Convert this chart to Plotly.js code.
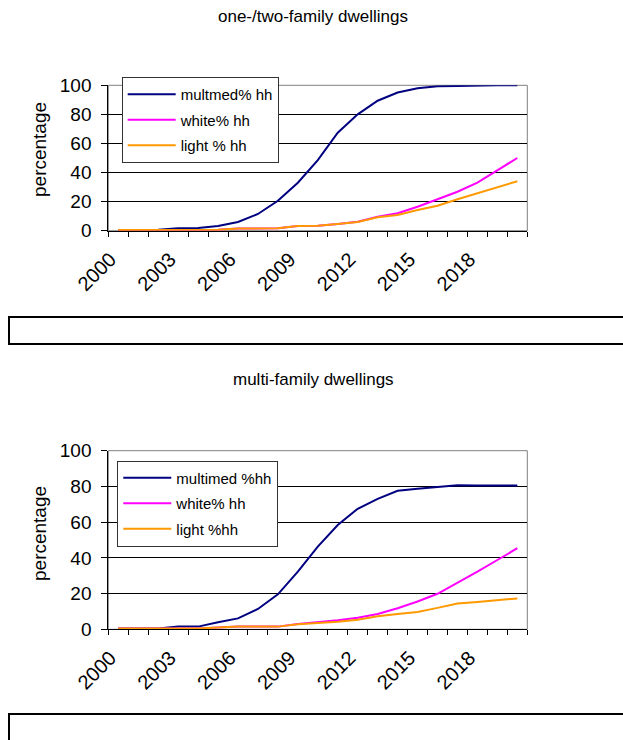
<!DOCTYPE html>
<html>
<head>
<meta charset="utf-8">
<script src="https://cdn.plot.ly/plotly-3.0.1.min.js"></script>
<style>
  html, body { margin: 0; padding: 0; background: #fff; }
  #chart { width: 623px; height: 740px; }
</style>
</head>
<body>
<div id="chart"></div>
<script>
// Years on the category axis
const years = [2000, 2001, 2002, 2003, 2004, 2005, 2006, 2007, 2008, 2009, 2010,
               2011, 2012, 2013, 2014, 2015, 2016, 2017, 2018, 2019, 2020];
const labelYears = [2000, 2003, 2006, 2009, 2012, 2015, 2018];

// One-/two-family dwellings: share of households (%)
const oneTwoMultimed = [0.5, 0.5, 0.7, 1.6, 1.8, 3.2, 6, 11.5, 20.6, 33, 48.6,
                        67.4, 80, 89.4, 95, 98, 99.3, 99.5, 100, 100, 100];
const oneTwoWhite    = [0.5, 0.5, 0.5, 0.5, 0.5, 0.6, 1.5, 1.5, 1.7, 3.2, 3.4,
                        4.6, 6.2, 9.6, 12, 16.5, 21.6, 26.8, 33, 41.5, 50];
const oneTwoLight    = [0.5, 0.5, 0.5, 0.5, 0.5, 0.6, 1.5, 1.5, 1.7, 3.2, 3.4,
                        4.6, 6, 9.2, 10.8, 14.2, 17.2, 21.6, 25.7, 29.6, 34];

// Multi-family dwellings: share of households (%)
const multiMultimed = [0.5, 0.5, 0.5, 1.5, 1.5, 3.9, 6.1, 11.4, 19.6, 32.3, 46.3,
                       58.4, 67.5, 73, 77.6, 78.7, 79.5, 80.6, 80.5, 80.5, 80.5];
const multiWhite    = [0.5, 0.5, 0.5, 0.5, 0.5, 1, 1.5, 1.5, 1.5, 3, 4,
                       5.1, 6.5, 8.6, 11.8, 15.6, 19.9, 26, 32.3, 38.8, 45.4];
const multiLight    = [0.5, 0.5, 0.5, 0.5, 0.5, 1, 1.5, 1.5, 1.5, 2.8, 3.3,
                       4.2, 5.3, 7.3, 8.6, 9.7, 12, 14.4, 15.3, 16.4, 17.3];

const topNames = ['multmed% hh', 'white% hh', 'light % hh'];
const bottomNames = ['multimed %hh', 'white% hh', 'light %hh'];
const chartTitles = ['one-/two-family dwellings', 'multi-family dwellings'];

const COLORS = ['#000080', '#FF00FF', '#FF9900'];
const FONT = 'Liberation Sans, Arial, sans-serif';
const W = 623, H = 740;

function line(y, name, i, xa, ya, legend) {
  return {
    type: 'scatter', mode: 'lines', x: years, y: y, name: name,
    xaxis: xa, yaxis: ya, legend: legend, legendgroup: legend + i,
    line: { color: COLORS[i], width: 2 }, hoverinfo: 'skip'
  };
}

const data = [
  line(oneTwoMultimed, topNames[0], 0, 'x', 'y', 'legend'),
  line(oneTwoWhite, topNames[1], 1, 'x', 'y', 'legend'),
  line(oneTwoLight, topNames[2], 2, 'x', 'y', 'legend'),
  line(multiMultimed, bottomNames[0], 0, 'x2', 'y2', 'legend2'),
  line(multiWhite, bottomNames[1], 1, 'x2', 'y2', 'legend2'),
  line(multiLight, bottomNames[2], 2, 'x2', 'y2', 'legend2')
];

// pixel helpers for paper coordinates
const px = v => v / W;
const py = v => (H - v) / H;

// rotated year labels end a little left of the category centre
const LABEL_SHIFT = 0.4;

function xAxis(anchor) {
  return {
    anchor: anchor, domain: [px(108.3), px(527.3)],
    range: [1999.5, 2020.5], fixedrange: true,
    showgrid: false, zeroline: false,
    showline: true, linecolor: '#000', linewidth: 1,
    tickmode: 'array', tickvals: labelYears.map(v => v - LABEL_SHIFT),
    ticktext: labelYears.map(String),
    ticks: '', tickangle: -45, ticklabelstandoff: 8,
    tickfont: { family: FONT, size: 20, color: '#000' },
    minor: { ticks: 'outside', tick0: 1999.5, dtick: 1, ticklen: 5,
             tickcolor: '#000', tickwidth: 1, showgrid: false }
  };
}
function yAxis(anchor, dom) {
  return {
    anchor: anchor, domain: dom, range: [0, 100], fixedrange: true,
    tickmode: 'linear', tick0: 0, dtick: 20,
    showgrid: true, gridcolor: '#000', gridwidth: 1, zeroline: false,
    showline: true, linecolor: '#000', linewidth: 1,
    ticks: 'outside', ticklen: 6, tickcolor: '#000', ticklabelstandoff: 6,
    tickfont: { family: FONT, size: 19, color: '#000' }
  };
}
function legendBox(x, y) {
  return {
    x: px(x), y: py(y), xanchor: 'left', yanchor: 'top',
    bgcolor: '#fff', bordercolor: '#333', borderwidth: 1,
    font: { family: FONT, size: 15, color: '#000' },
    traceorder: 'grouped', tracegroupgap: 3, itemwidth: 48,
    itemclick: false, itemdoubleclick: false
  };
}

const layout = {
  width: W, height: H,
  margin: { l: 0, r: 0, t: 0, b: 0, pad: 0 },
  paper_bgcolor: '#fff', plot_bgcolor: '#fff',
  showlegend: true,
  xaxis: xAxis('y'),
  yaxis: yAxis('x', [py(230.7), py(85.3)]),
  xaxis2: xAxis('y2'),
  yaxis2: yAxis('x2', [py(629.3), py(450.7)]),
  legend: legendBox(121.7, 77),
  legend2: legendBox(117.3, 460.5),
  shapes: [
    // plot-area frames
    { type: 'rect', xref: 'x domain', yref: 'y domain', x0: 0, x1: 1, y0: 0, y1: 1,
      line: { color: '#808080', width: 1 }, layer: 'below' },
    { type: 'rect', xref: 'x2 domain', yref: 'y2 domain', x0: 0, x1: 1, y0: 0, y1: 1,
      line: { color: '#808080', width: 1 }, layer: 'below' },
    // empty caption boxes under each chart
    { type: 'rect', xref: 'paper', yref: 'paper', x0: px(9), x1: px(640), y0: py(344), y1: py(317),
      line: { color: '#000', width: 2 } },
    { type: 'rect', xref: 'paper', yref: 'paper', x0: px(9), x1: px(640), y0: py(760), y1: py(714),
      line: { color: '#000', width: 2 } }
  ],
  annotations: [
    { text: chartTitles[0], xref: 'paper', yref: 'paper', x: px(313), y: py(17),
      xanchor: 'center', yanchor: 'middle', showarrow: false,
      font: { family: FONT, size: 17, color: '#000' } },
    { text: chartTitles[1], xref: 'paper', yref: 'paper', x: px(313), y: py(379),
      xanchor: 'center', yanchor: 'middle', showarrow: false,
      font: { family: FONT, size: 17, color: '#000' } },
    { text: 'percentage', xref: 'paper', yref: 'paper', x: px(39), y: py(150),
      xanchor: 'center', yanchor: 'middle', textangle: -90, showarrow: false,
      font: { family: FONT, size: 19, color: '#000' } },
    { text: 'percentage', xref: 'paper', yref: 'paper', x: px(39), y: py(534),
      xanchor: 'center', yanchor: 'middle', textangle: -90, showarrow: false,
      font: { family: FONT, size: 19, color: '#000' } }
  ]
};

Plotly.newPlot('chart', data, layout, { staticPlot: true, displayModeBar: false });
</script>
</body>
</html>
